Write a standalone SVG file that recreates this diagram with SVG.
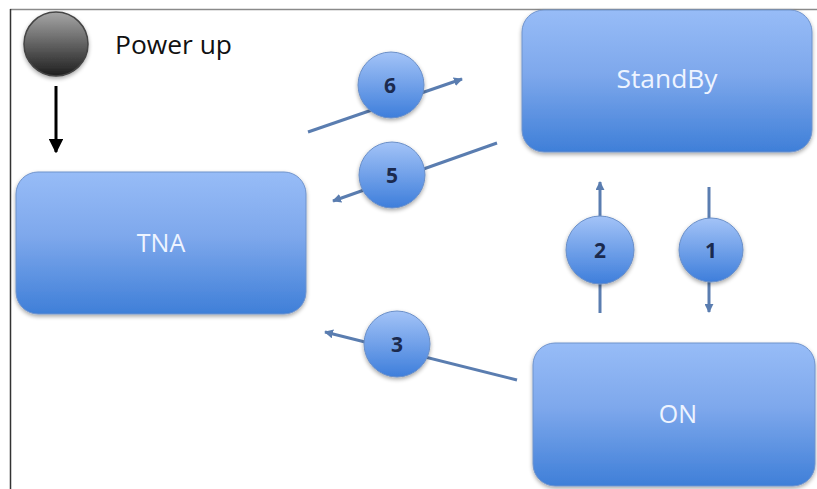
<svg xmlns="http://www.w3.org/2000/svg" width="817" height="489" viewBox="0 0 817 489">
<defs>
<linearGradient id="boxG" x1="0" y1="0" x2="0" y2="1">
<stop offset="0" stop-color="#97bcf7"/>
<stop offset="0.45" stop-color="#7ea8ec"/>
<stop offset="1" stop-color="#3f7fd8"/>
</linearGradient>
<linearGradient id="badgeG" x1="0" y1="0" x2="0" y2="1">
<stop offset="0" stop-color="#a3c3f7"/>
<stop offset="1" stop-color="#3e7edb"/>
</linearGradient>
<linearGradient id="greyG" x1="0" y1="0" x2="0" y2="1">
<stop offset="0" stop-color="#a6a6a6"/>
<stop offset="1" stop-color="#1e1e1e"/>
</linearGradient>
<filter id="sh" x="-10%" y="-10%" width="120%" height="130%">
<feGaussianBlur in="SourceAlpha" stdDeviation="2"/>
<feOffset dy="2"/>
<feComponentTransfer><feFuncA type="linear" slope="0.35"/></feComponentTransfer>
<feMerge><feMergeNode/><feMergeNode in="SourceGraphic"/></feMerge>
</filter>
<marker id="ah" viewBox="0 0 10 10" refX="9" refY="5" markerWidth="3" markerHeight="3" orient="auto" markerUnits="strokeWidth">
<path d="M0,0 L10,5 L0,10 z" fill="#5a7db0"/>
</marker>
<marker id="ahk" viewBox="0 0 10 10" refX="9" refY="5" markerWidth="4.8" markerHeight="4.8" orient="auto" markerUnits="strokeWidth">
<path d="M0,0 L10,5 L0,10 z" fill="#000"/>
</marker>
</defs>
<style>
.box{fill:url(#boxG);stroke:#6f93cc;stroke-width:1;filter:url(#sh)}
.boxt{font-family:"Open Sans","Liberation Sans",sans-serif;font-size:25px;fill:#eef4ff;text-anchor:middle}
.ln{stroke:#5a7db0;stroke-width:3;fill:none;marker-end:url(#ah)}
.badge{fill:url(#badgeG);stroke:#6a8fc8;stroke-width:1;filter:url(#sh)}
.bt{font-family:"Open Sans","Liberation Sans",sans-serif;font-size:21px;font-weight:bold;fill:#1b2a4e;text-anchor:middle}
</style>
<rect width="817" height="489" fill="#fff"/>
<line x1="10" y1="9.5" x2="817" y2="9.5" stroke="#8a8a8a" stroke-width="1.5"/>
<line x1="10.5" y1="9" x2="10.5" y2="489" stroke="#333" stroke-width="1.5"/>

<g id="start">
<circle cx="56" cy="44" r="32" fill="url(#greyG)" stroke="#444" stroke-width="1.5" filter="url(#sh)"/>
<text x="115" y="54" font-family="Open Sans, Liberation Sans, sans-serif" font-size="25" fill="#111" textLength="117" lengthAdjust="spacingAndGlyphs">Power up</text>
</g>

<g id="TNA">
<rect class="box" x="16" y="172" width="290" height="142" rx="22"/>
<text class="boxt" x="161" y="252">TNA</text>
</g>
<g id="StandBy">
<rect class="box" x="522" y="10" width="290" height="142" rx="22"/>
<text class="boxt" x="667" y="88" textLength="101" lengthAdjust="spacingAndGlyphs">StandBy</text>
</g>
<g id="ON">
<rect class="box" x="533" y="343" width="282" height="143" rx="22"/>
<text class="boxt" x="678" y="423">ON</text>
</g>

<g id="connectors">
<line x1="56" y1="86" x2="56" y2="152" stroke="#000" stroke-width="3" marker-end="url(#ahk)"/>
<g id="c6">
<line class="ln" x1="308" y1="132" x2="462" y2="79"/>
<circle class="badge" cx="391" cy="85" r="33"/>
<text class="bt" x="390" y="93">6</text>
</g>
<g id="c5">
<line class="ln" x1="497" y1="143" x2="333" y2="201"/>
<circle class="badge" cx="392" cy="175" r="33"/>
<text class="bt" x="392" y="183">5</text>
</g>
<g id="c2">
<line class="ln" x1="600" y1="313" x2="600" y2="182"/>
<circle class="badge" cx="600" cy="250" r="34"/>
<text class="bt" x="600" y="258">2</text>
</g>
<g id="c1">
<line class="ln" x1="709" y1="187" x2="709" y2="312"/>
<circle class="badge" cx="711" cy="250" r="32"/>
<text class="bt" x="711" y="258">1</text>
</g>
<g id="c3">
<line class="ln" x1="517" y1="380" x2="325" y2="332"/>
<circle class="badge" cx="397" cy="344" r="33"/>
<text class="bt" x="397" y="352">3</text>
</g>
</g>
</svg>
